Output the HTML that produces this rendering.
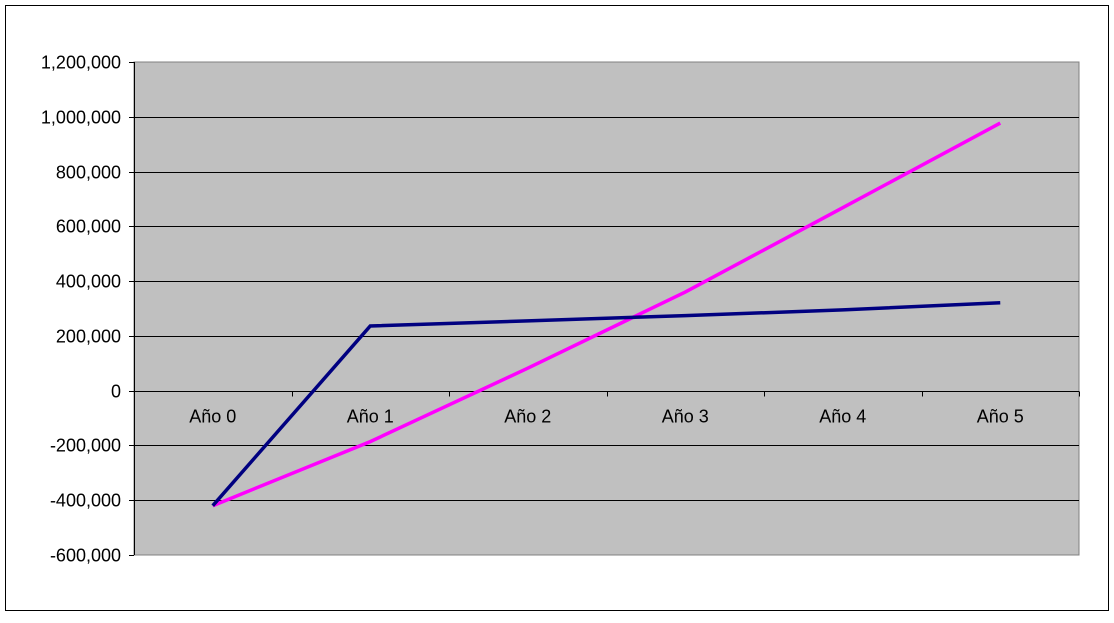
<!DOCTYPE html>
<html><head><meta charset="utf-8"><style>
body{margin:0;background:#fff;}
svg text{font-family:"Liberation Sans",Arial,sans-serif;font-size:18px;fill:#000;}
</style></head><body>
<svg id="chart" width="1114" height="618" xmlns="http://www.w3.org/2000/svg">
<rect x="5.5" y="5.5" width="1103" height="605" fill="#fff" stroke="#000" stroke-width="1"/>
<rect x="134" y="62" width="945" height="493" fill="#c0c0c0" stroke="#808080" stroke-width="1"/>
<g id="grid"></g><g id="yt"></g><g id="xt"></g><g id="series"></g>
</svg>
<script>
const categories=["Año 0","Año 1","Año 2","Año 3","Año 4","Año 5"];
const seriesNavy=[-420000,236000,255000,274000,295000,321000];
const seriesMagenta=[-420000,-186000,82000,360000,668000,977000];
const yTicks=[1200000,1000000,800000,600000,400000,200000,0,-200000,-400000,-600000];
const L=134,R=1079,T=62,B=555,yMin=-600000,yMax=1200000;
const y=v=>T+(yMax-v)/(yMax-yMin)*(B-T);
const step=(R-L)/categories.length;
const x=i=>L+step*(i+0.5);
const NS="http://www.w3.org/2000/svg";
function mk(t,a,p){const e=document.createElementNS(NS,t);for(const k in a)e.setAttribute(k,a[k]);p.appendChild(e);return e;}
const g=document.getElementById('grid'),yt=document.getElementById('yt'),xt=document.getElementById('xt'),s=document.getElementById('series');
yTicks.forEach(v=>{
 const yy=Math.round(y(v))+0.5;
 if(v!==yMin&&v!==yMax){const l=mk('line',{x1:L,x2:R,y1:yy,y2:yy,stroke:'#000','stroke-width':1},g);
 
 }
 const tk=mk('line',{x1:L-5,x2:L,y1:yy,y2:yy,stroke:'#000'},yt);
 
 
 const t=mk('text',{x:L-13,y:yy+6,'text-anchor':'end'},yt);t.textContent=v.toLocaleString('en-US');
 
 
});
const ya=mk('line',{x1:L+0.5,x2:L+0.5,y1:T,y2:B,stroke:'#000'},yt);


const zy=Math.round(y(0))+0.5;
for(let i=0;i<=categories.length;i++){const xx=Math.round(L+step*i)+0.5;
 const tk=mk('line',{x1:xx,x2:xx,y1:zy,y2:zy+5,stroke:'#000'},xt);
 
 }
categories.forEach((c,i)=>{const t=mk('text',{x:x(i),y:zy+31,'text-anchor':'middle'},xt);t.textContent=c;
 
 });
function line(d,col,name){const p=mk('polyline',{points:d.map((v,i)=>x(i)+','+y(v)).join(' '),fill:'none',stroke:col,'stroke-width':3.5,'stroke-linejoin':'miter'},s);
 
 }
line(seriesMagenta,'#ff00ff','series-magenta-line');
line(seriesNavy,'#000080','series-navy-line');
</script>
</body></html>
